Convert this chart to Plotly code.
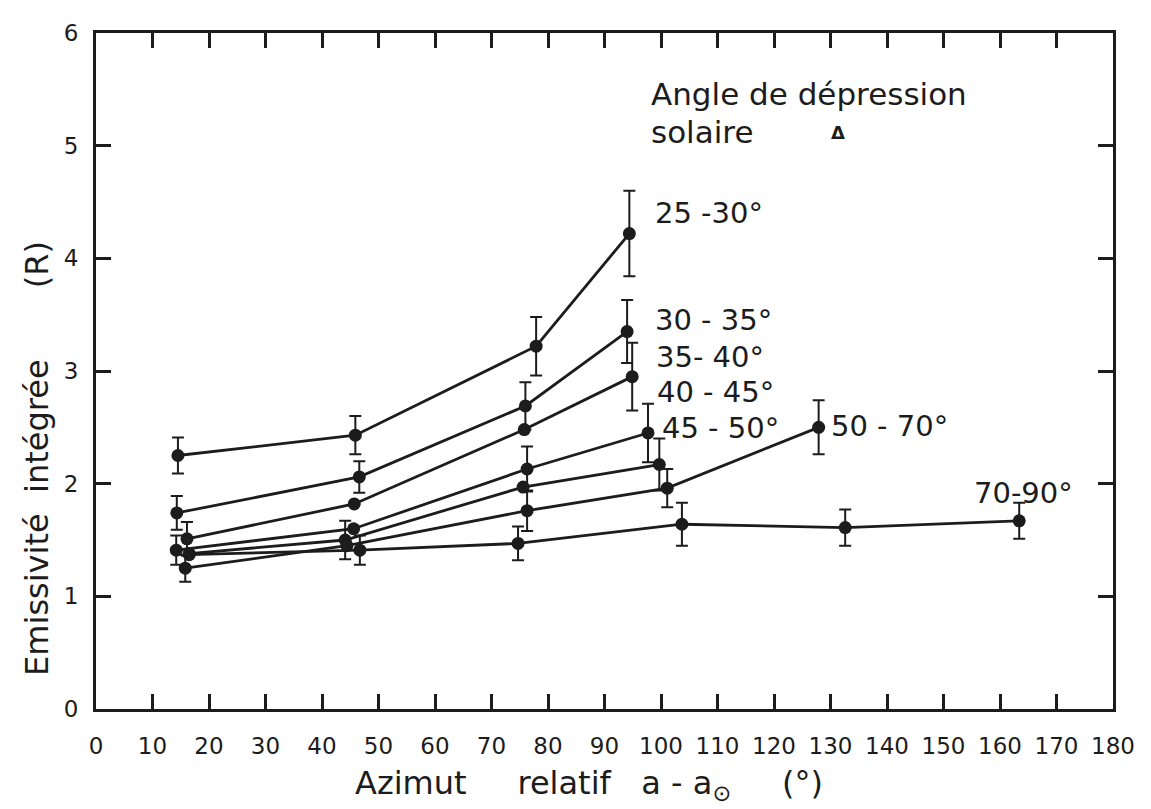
import plotly.graph_objects as go

# ---- data (x = azimut relatif, y = émissivité intégrée, R) ----
series_names = ["25 -30°", "30 - 35°", "35- 40°", "40 - 45°", "45 - 50°", "50 - 70°", "70-90°"]

x_25_30 = [14.5, 45.9, 77.9, 94.4]
y_25_30 = [2.25, 2.43, 3.22, 4.22]
e_25_30 = [0.16, 0.17, 0.26, 0.38]

x_30_35 = [14.3, 46.6, 76.0, 94.0]
y_30_35 = [1.74, 2.06, 2.69, 3.35]
e_30_35 = [0.15, 0.14, 0.21, 0.28]

x_35_40 = [16.1, 45.7, 75.8, 94.9]
y_35_40 = [1.51, 1.82, 2.48, 2.95]
e_35_40 = [0.15, 0.0, 0.0, 0.30]

x_40_45 = [14.2, 45.6, 76.3, 97.7]
y_40_45 = [1.41, 1.60, 2.13, 2.45]
e_40_45 = [0.13, 0.0, 0.20, 0.26]

x_45_50 = [16.5, 44.1, 75.6, 99.7]
y_45_50 = [1.38, 1.50, 1.97, 2.17]
e_45_50 = [0.0, 0.17, 0.0, 0.23]

x_50_70 = [15.8, 44.4, 76.3, 101.1, 127.9]
y_50_70 = [1.25, 1.45, 1.76, 1.96, 2.50]
e_50_70 = [0.12, 0.0, 0.18, 0.17, 0.24]

x_70_90 = [16.5, 46.7, 74.7, 103.7, 132.6, 163.4]
y_70_90 = [1.37, 1.41, 1.47, 1.64, 1.61, 1.67]
e_70_90 = [0.0, 0.13, 0.15, 0.19, 0.16, 0.16]

# label anchor positions (data coords, left edge of text)
label_x = [98.5, 98.5, 98.8, 99.0, 99.8, 129.8, 155.0]
label_y = [4.40, 3.45, 3.12, 2.81, 2.49, 2.51, 1.92]

x_ticks = list(range(0, 181, 10))
y_ticks = [0, 1, 2, 3, 4, 5, 6]

xs = [x_25_30, x_30_35, x_35_40, x_40_45, x_45_50, x_50_70, x_70_90]
ys = [y_25_30, y_30_35, y_35_40, y_40_45, y_45_50, y_50_70, y_70_90]
es = [e_25_30, e_30_35, e_35_40, e_40_45, e_45_50, e_50_70, e_70_90]

INK = "#1c1c1c"
FONT = "DejaVu Sans"
NB = "\u00a0"

fig = go.Figure()
for name, x, y, e in zip(series_names, xs, ys, es):
    fig.add_trace(go.Scatter(
        x=x, y=y, name=name, mode="lines+markers",
        line=dict(color=INK, width=2.8),
        marker=dict(color=INK, size=13),
        error_y=dict(type="data", array=e, visible=True, color=INK, thickness=2, width=6),
        showlegend=False,
    ))

annotations = []
for name, lx, ly in zip(series_names, label_x, label_y):
    annotations.append(dict(x=lx, y=ly, xref="x", yref="y", text=name, showarrow=False,
                            xanchor="left", yanchor="middle",
                            font=dict(family=FONT, size=29, color=INK)))

annotations += [
    dict(x=97.8, y=5.46, xref="x", yref="y", text="Angle de dépression", showarrow=False,
         xanchor="left", yanchor="middle", font=dict(family=FONT, size=31, color=INK)),
    dict(x=97.8, y=5.12, xref="x", yref="y", text="solaire", showarrow=False,
         xanchor="left", yanchor="middle", font=dict(family=FONT, size=31, color=INK)),
    dict(x=131.3, y=5.12, xref="x", yref="y", text="<b>Δ</b>", showarrow=False,
         xanchor="center", yanchor="middle", font=dict(family=FONT, size=18, color=INK)),
    dict(x=0.485, y=-0.112, xref="paper", yref="paper",
         text="Azimut" + NB * 5 + "relatif" + NB * 3 + "a - a<sub>⊙</sub>" + NB * 5 + "(°)",
         showarrow=False, xanchor="center", yanchor="middle",
         font=dict(family=FONT, size=32, color=INK)),
    dict(x=-0.058, y=0.37, xref="paper", yref="paper",
         text="Emissivité" + NB * 2 + "intégrée" + NB * 7 + "(R)",
         showarrow=False, textangle=-90, xanchor="center", yanchor="middle",
         font=dict(family=FONT, size=32, color=INK)),
]

axis_common = dict(
    showline=True, linewidth=3, linecolor=INK, mirror="ticks",
    ticks="inside", ticklen=15, tickwidth=3, tickcolor=INK,
    showgrid=False, zeroline=False,
    tickfont=dict(family=FONT, size=23, color=INK),
)

# the page body adds an 8 px margin, so the figure is 8 px smaller than the window
fig.update_layout(
    width=1143, height=801,
    margin=dict(l=88, r=38, t=20, b=100),
    paper_bgcolor="white", plot_bgcolor="white",
    xaxis=dict(range=[0, 180], tickvals=x_ticks, ticktext=[str(v) for v in x_ticks],
               ticklabelstandoff=14, **axis_common),
    yaxis=dict(range=[0, 6], tickvals=y_ticks, ticktext=[str(v) for v in y_ticks],
               ticklabelstandoff=10, **axis_common),
    annotations=annotations,
)

fig.write_html("out.html")
